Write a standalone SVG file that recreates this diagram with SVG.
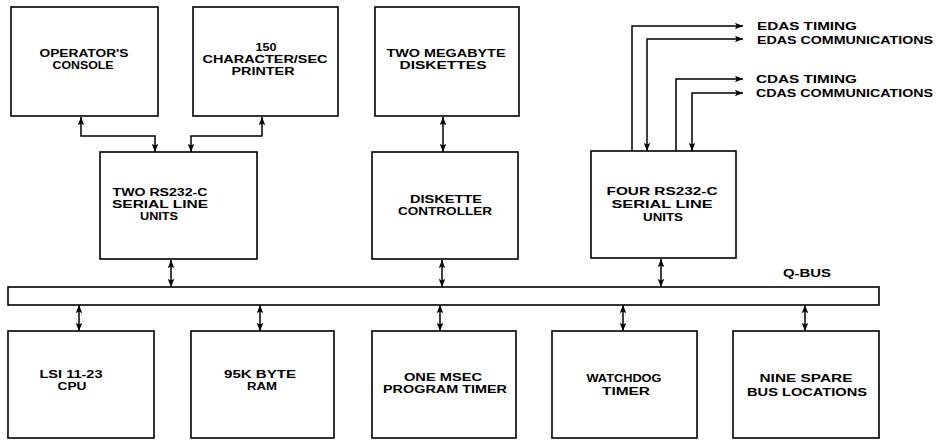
<svg xmlns="http://www.w3.org/2000/svg" width="938" height="442" viewBox="0 0 938 442">
<style>
.box{fill:#fff;stroke:#000;stroke-width:1.6}
.ln{fill:none;stroke:#000;stroke-width:1.5}
text{font-family:"Liberation Sans",Arial,sans-serif;font-weight:bold;font-size:10.5px;fill:#000;text-anchor:middle}
.l{text-anchor:start}
</style>
<defs>
<marker id="ah" viewBox="0 0 10 8" refX="10" refY="4" markerWidth="8" markerHeight="6.4" markerUnits="userSpaceOnUse" orient="auto-start-reverse">
<path d="M0,0 L10,4 L0,8 L2,4 z" fill="#000"/>
</marker>
</defs>
<rect width="938" height="442" fill="#fff"/>

<g id="connectors">
<path class="ln" d="M81,117 V136 H155 V152" marker-start="url(#ah)" marker-end="url(#ah)"/>
<path class="ln" d="M262,117 V136 H191 V152" marker-start="url(#ah)" marker-end="url(#ah)"/>
<path class="ln" d="M443,117 V152" marker-start="url(#ah)" marker-end="url(#ah)"/>
<path class="ln" d="M171,260 V287" marker-start="url(#ah)" marker-end="url(#ah)"/>
<path class="ln" d="M442,260 V287" marker-start="url(#ah)" marker-end="url(#ah)"/>
<path class="ln" d="M661,259 V287" marker-start="url(#ah)" marker-end="url(#ah)"/>
<path class="ln" d="M79,305 V331" marker-start="url(#ah)" marker-end="url(#ah)"/>
<path class="ln" d="M260,305 V331" marker-start="url(#ah)" marker-end="url(#ah)"/>
<path class="ln" d="M440,305 V331" marker-start="url(#ah)" marker-end="url(#ah)"/>
<path class="ln" d="M623,305 V331" marker-start="url(#ah)" marker-end="url(#ah)"/>
<path class="ln" d="M805,305 V331" marker-start="url(#ah)" marker-end="url(#ah)"/>
<path class="ln" d="M632,151 V26 H743" marker-end="url(#ah)"/>
<path class="ln" d="M743,39 H647 V151" marker-start="url(#ah)" marker-end="url(#ah)"/>
<path class="ln" d="M676,151 V79 H743" marker-end="url(#ah)"/>
<path class="ln" d="M743,93 H692 V151" marker-start="url(#ah)" marker-end="url(#ah)"/>
</g>

<g id="operators-console">
<rect class="box" x="11" y="7" width="147" height="109"/>
<text x="84" y="57" textLength="89" lengthAdjust="spacingAndGlyphs">OPERATOR'S</text>
<text x="83" y="69" textLength="61" lengthAdjust="spacingAndGlyphs">CONSOLE</text>
</g>

<g id="printer">
<rect class="box" x="193" y="7" width="145" height="109"/>
<text x="266" y="51" textLength="21" lengthAdjust="spacingAndGlyphs">150</text>
<text x="265" y="63" textLength="125" lengthAdjust="spacingAndGlyphs">CHARACTER/SEC</text>
<text x="263" y="75" textLength="63" lengthAdjust="spacingAndGlyphs">PRINTER</text>
</g>

<g id="diskettes">
<rect class="box" x="375" y="7" width="144" height="109"/>
<text x="446" y="57" textLength="119" lengthAdjust="spacingAndGlyphs">TWO MEGABYTE</text>
<text x="443" y="69" textLength="87" lengthAdjust="spacingAndGlyphs">DISKETTES</text>
</g>

<g id="two-rs232">
<rect class="box" x="100" y="152" width="157" height="107"/>
<text x="160" y="196" textLength="95" lengthAdjust="spacingAndGlyphs">TWO RS232-C</text>
<text x="160" y="208" textLength="96" lengthAdjust="spacingAndGlyphs">SERIAL LINE</text>
<text x="159" y="220" textLength="38" lengthAdjust="spacingAndGlyphs">UNITS</text>
</g>

<g id="diskette-controller">
<rect class="box" x="372" y="152" width="146" height="107"/>
<text x="446" y="203" textLength="72" lengthAdjust="spacingAndGlyphs">DISKETTE</text>
<text x="445" y="215" textLength="94" lengthAdjust="spacingAndGlyphs">CONTROLLER</text>
</g>

<g id="four-rs232">
<rect class="box" x="591" y="151" width="145" height="107"/>
<text x="662" y="195" textLength="111" lengthAdjust="spacingAndGlyphs">FOUR RS232-C</text>
<text x="662" y="208" textLength="101" lengthAdjust="spacingAndGlyphs">SERIAL LINE</text>
<text x="663" y="221" textLength="40" lengthAdjust="spacingAndGlyphs">UNITS</text>
</g>

<g id="external-links">
<text class="l" x="757" y="30" textLength="100" lengthAdjust="spacingAndGlyphs">EDAS TIMING</text>
<text class="l" x="757" y="43.5" textLength="176" lengthAdjust="spacingAndGlyphs">EDAS COMMUNICATIONS</text>
<text class="l" x="756" y="83" textLength="101" lengthAdjust="spacingAndGlyphs">CDAS TIMING</text>
<text class="l" x="756" y="97" textLength="177" lengthAdjust="spacingAndGlyphs">CDAS COMMUNICATIONS</text>
</g>

<g id="q-bus">
<rect class="box" x="8" y="287" width="871" height="18"/>
<text x="807" y="277" textLength="48" lengthAdjust="spacingAndGlyphs">Q-BUS</text>
</g>

<g id="cpu">
<rect class="box" x="8" y="331" width="146" height="107"/>
<text x="71" y="378" textLength="63" lengthAdjust="spacingAndGlyphs">LSI 11-23</text>
<text x="72" y="390" textLength="29" lengthAdjust="spacingAndGlyphs">CPU</text>
</g>

<g id="ram">
<rect class="box" x="191" y="331" width="143" height="107"/>
<text x="260" y="378" textLength="72" lengthAdjust="spacingAndGlyphs">95K BYTE</text>
<text x="262" y="390" textLength="30" lengthAdjust="spacingAndGlyphs">RAM</text>
</g>

<g id="program-timer">
<rect class="box" x="372" y="331" width="144" height="107"/>
<text x="443" y="381" textLength="78" lengthAdjust="spacingAndGlyphs">ONE MSEC</text>
<text x="445" y="393" textLength="124" lengthAdjust="spacingAndGlyphs">PROGRAM TIMER</text>
</g>

<g id="watchdog-timer">
<rect class="box" x="552" y="331" width="145" height="107"/>
<text x="624" y="382" textLength="75" lengthAdjust="spacingAndGlyphs">WATCHDOG</text>
<text x="626" y="395" textLength="48" lengthAdjust="spacingAndGlyphs">TIMER</text>
</g>

<g id="spare-bus-locations">
<rect class="box" x="733" y="331" width="146" height="107"/>
<text x="806" y="382" textLength="93" lengthAdjust="spacingAndGlyphs">NINE SPARE</text>
<text x="807" y="396" textLength="120" lengthAdjust="spacingAndGlyphs">BUS LOCATIONS</text>
</g>
</svg>
